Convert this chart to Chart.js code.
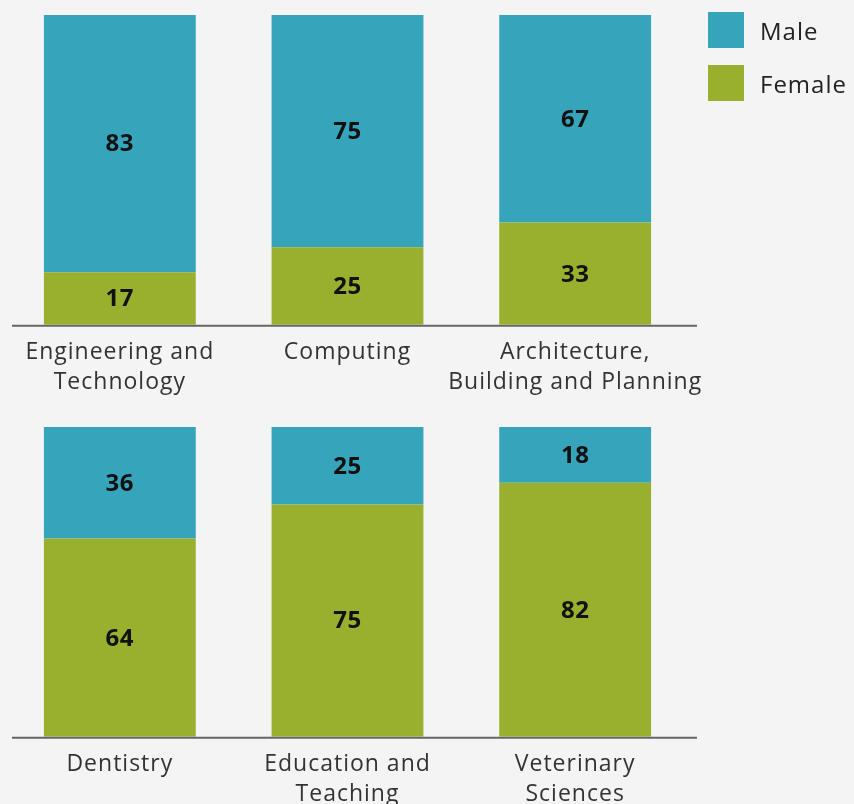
<!DOCTYPE html>
<html>
<head>
<meta charset="utf-8">
<script src="https://cdn.jsdelivr.net/npm/chart.js@4"></script>
<style>
  html, body { margin:0; padding:0; background:#f4f4f4; width:854px; height:804px; overflow:hidden; }
  .wrap { position:absolute; left:0; width:780px; height:410px; }
  #w1 { top:0; }
  #w2 { top:412px; }
  .legend { position:absolute; left:708px; font-family:"Open Sans", sans-serif; font-size:24px; letter-spacing:1px; color:#222; }
  .item { position:absolute; left:0; width:150px; height:36px; }
  .sw { position:absolute; left:0; top:0; width:36px; height:36px; }
  .lab { position:absolute; left:52px; top:0; line-height:38px; white-space:nowrap; }
</style>
</head>
<body>
<div class="wrap" id="w1"><canvas id="c1" width="780" height="410"></canvas></div>
<div class="wrap" id="w2"><canvas id="c2" width="780" height="410"></canvas></div>
<div class="legend">
  <div class="item" style="top:12px"><div class="sw" style="background:#36a4bb"></div><div class="lab">Male</div></div>
  <div class="item" style="top:65px"><div class="sw" style="background:#98b02e"></div><div class="lab">Female</div></div>
</div>
<script>
const seriesNames = ["Male", "Female"];
const topCategories = [["Engineering and", "Technology"], ["Computing"], ["Architecture,", "Building and Planning"]];
const topMale = [83, 75, 67];
const topFemale = [17, 25, 33];
const bottomCategories = [["Dentistry"], ["Education and", "Teaching"], ["Veterinary", "Sciences"]];
const bottomMale = [36, 25, 18];
const bottomFemale = [64, 75, 82];
const colors = { Male: "#36a4bb", Female: "#98b02e" };

const spacing = {
  id: "spacing",
  beforeInit(chart) { chart.ctx.letterSpacing = "1px"; },
  beforeUpdate(chart) { chart.ctx.letterSpacing = "1px"; },
  beforeDraw(chart) { chart.ctx.letterSpacing = "1px"; }
};
const valueLabels = {
  id: "valueLabels",
  afterDatasetsDraw(chart) {
    const ctx = chart.ctx;
    ctx.save();
    ctx.letterSpacing = "0.5px";
    ctx.font = "bold 24px 'Open Sans', sans-serif";
    ctx.fillStyle = "#111";
    ctx.textAlign = "center";
    ctx.textBaseline = "middle";
    chart.data.datasets.forEach((ds, di) => {
      const meta = chart.getDatasetMeta(di);
      meta.data.forEach((el, i) => {
        const p = el.getProps(["x", "y", "base"], true);
        ctx.fillText(String(ds.data[i]), p.x, (p.y + p.base) / 2 + 1);
      });
    });
    ctx.restore();
  }
};
const axisLine = {
  id: "axisLine",
  afterDraw(chart) {
    const ctx = chart.ctx, a = chart.chartArea;
    ctx.save();
    ctx.strokeStyle = "#666";
    ctx.lineWidth = 2;
    ctx.beginPath();
    ctx.moveTo(a.left + 6, a.bottom + 1);
    ctx.lineTo(a.right + 8, a.bottom + 1);
    ctx.stroke();
    ctx.restore();
  }
};

function make(id, cats, male, female) {
  return new Chart(document.getElementById(id), {
    type: "bar",
    data: {
      labels: cats,
      datasets: [
        { label: seriesNames[1], data: female, backgroundColor: colors.Female },
        { label: seriesNames[0], data: male, backgroundColor: colors.Male }
      ]
    },
    options: {
      responsive: false,
      animation: false,
      events: [],
      layout: { padding: { left: 6, right: 91, top: 15, bottom: 0 } },
      plugins: { legend: { display: false }, tooltip: { enabled: false } },
      datasets: { bar: { categoryPercentage: 1, barPercentage: 0.667 } },
      scales: {
        x: {
          stacked: true,
          grid: { display: false, drawTicks: false },
          border: { display: false },
          ticks: { color: "#333", padding: 12, maxRotation: 0, autoSkip: false,
                   font: { family: "'Open Sans', sans-serif", size: 23, lineHeight: 1.33 } }
        },
        y: { stacked: true, display: false, min: 0, max: 100 }
      }
    },
    plugins: [spacing, valueLabels, axisLine]
  });
}
make("c1", topCategories, topMale, topFemale);
make("c2", bottomCategories, bottomMale, bottomFemale);
</script>
</body>
</html>
